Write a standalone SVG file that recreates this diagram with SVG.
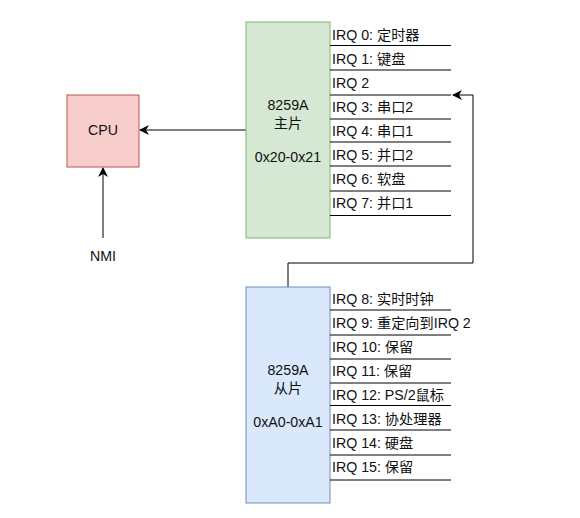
<svg xmlns="http://www.w3.org/2000/svg" width="580" height="518" viewBox="0 0 580 518">
<style>
text{font-family:"Liberation Sans","Noto Sans CJK SC",sans-serif;font-size:14.2px;fill:#111}
.c{text-anchor:middle}
.ln{stroke:#000;stroke-width:1;fill:none}
.u{stroke:#000;stroke-width:1}
</style>
<defs>
<marker id="ah" viewBox="0 0 10 10" refX="9" refY="5" markerWidth="10" markerHeight="10" markerUnits="userSpaceOnUse" orient="auto">
<path d="M0,0 L10,5 L0,10 L3,5 Z" fill="#000"/>
</marker>
</defs>
<rect width="580" height="518" fill="#fff"/>
<g id="connectors">
<line class="ln" x1="246" y1="130" x2="140" y2="130" marker-end="url(#ah)"/>
<line class="ln" x1="103" y1="238" x2="103" y2="168" marker-end="url(#ah)"/>
<polyline class="ln" points="288,287 288,263 473,263 473,95 453,95" marker-end="url(#ah)"/>
</g>
<g id="cpu">
<rect x="67" y="95" width="72" height="72" fill="#f8cecc" stroke="#b85450"/>
<text class="c" x="103" y="135">CPU</text>
</g>
<g id="nmi">
<text class="c" x="103" y="261">NMI</text>
</g>
<g id="master">
<rect x="246" y="22" width="84" height="216" fill="#d5e8d4" stroke="#82b366"/>
<text class="c" x="288" y="110">8259A</text>
<text class="c" x="288" y="128">主片</text>
<text class="c" x="288" y="162">0x20-0x21</text>
</g>
<g id="master-irqs">
<line class="u" x1="330" y1="45.5" x2="451" y2="45.5"/>
<line class="u" x1="330" y1="70" x2="451" y2="70"/>
<line class="u" x1="330" y1="95" x2="451" y2="95"/>
<line class="u" x1="330" y1="119" x2="451" y2="119"/>
<line class="u" x1="330" y1="142" x2="451" y2="142"/>
<line class="u" x1="330" y1="166" x2="451" y2="166"/>
<line class="u" x1="330" y1="191" x2="451" y2="191"/>
<line class="u" x1="330" y1="215.5" x2="451" y2="215.5"/>
<text x="332" y="40">IRQ 0: 定时器</text>
<text x="332" y="64">IRQ 1: 键盘</text>
<text x="332" y="88">IRQ 2</text>
<text x="332" y="112">IRQ 3: 串口2</text>
<text x="332" y="136">IRQ 4: 串口1</text>
<text x="332" y="160">IRQ 5: 并口2</text>
<text x="332" y="184">IRQ 6: 软盘</text>
<text x="332" y="208">IRQ 7: 并口1</text>
</g>
<g id="slave">
<rect x="246" y="287" width="84" height="216" fill="#dae8fc" stroke="#6c8ebf"/>
<text class="c" x="288" y="375">8259A</text>
<text class="c" x="288" y="393">从片</text>
<text class="c" x="288" y="427">0xA0-0xA1</text>
</g>
<g id="slave-irqs">
<line class="u" x1="330" y1="310" x2="451" y2="310"/>
<line class="u" x1="330" y1="335" x2="451" y2="335"/>
<line class="u" x1="330" y1="359" x2="451" y2="359"/>
<line class="u" x1="330" y1="383" x2="451" y2="383"/>
<line class="u" x1="330" y1="405.5" x2="451" y2="405.5"/>
<line class="u" x1="330" y1="430" x2="451" y2="430"/>
<line class="u" x1="330" y1="455" x2="451" y2="455"/>
<line class="u" x1="330" y1="480" x2="451" y2="480"/>
<text x="332" y="304">IRQ 8: 实时时钟</text>
<text x="332" y="328">IRQ 9: 重定向到IRQ 2</text>
<text x="332" y="352">IRQ 10: 保留</text>
<text x="332" y="376">IRQ 11: 保留</text>
<text x="332" y="400">IRQ 12: PS/2鼠标</text>
<text x="332" y="424">IRQ 13: 协处理器</text>
<text x="332" y="448">IRQ 14: 硬盘</text>
<text x="332" y="472">IRQ 15: 保留</text>
</g>
</svg>
